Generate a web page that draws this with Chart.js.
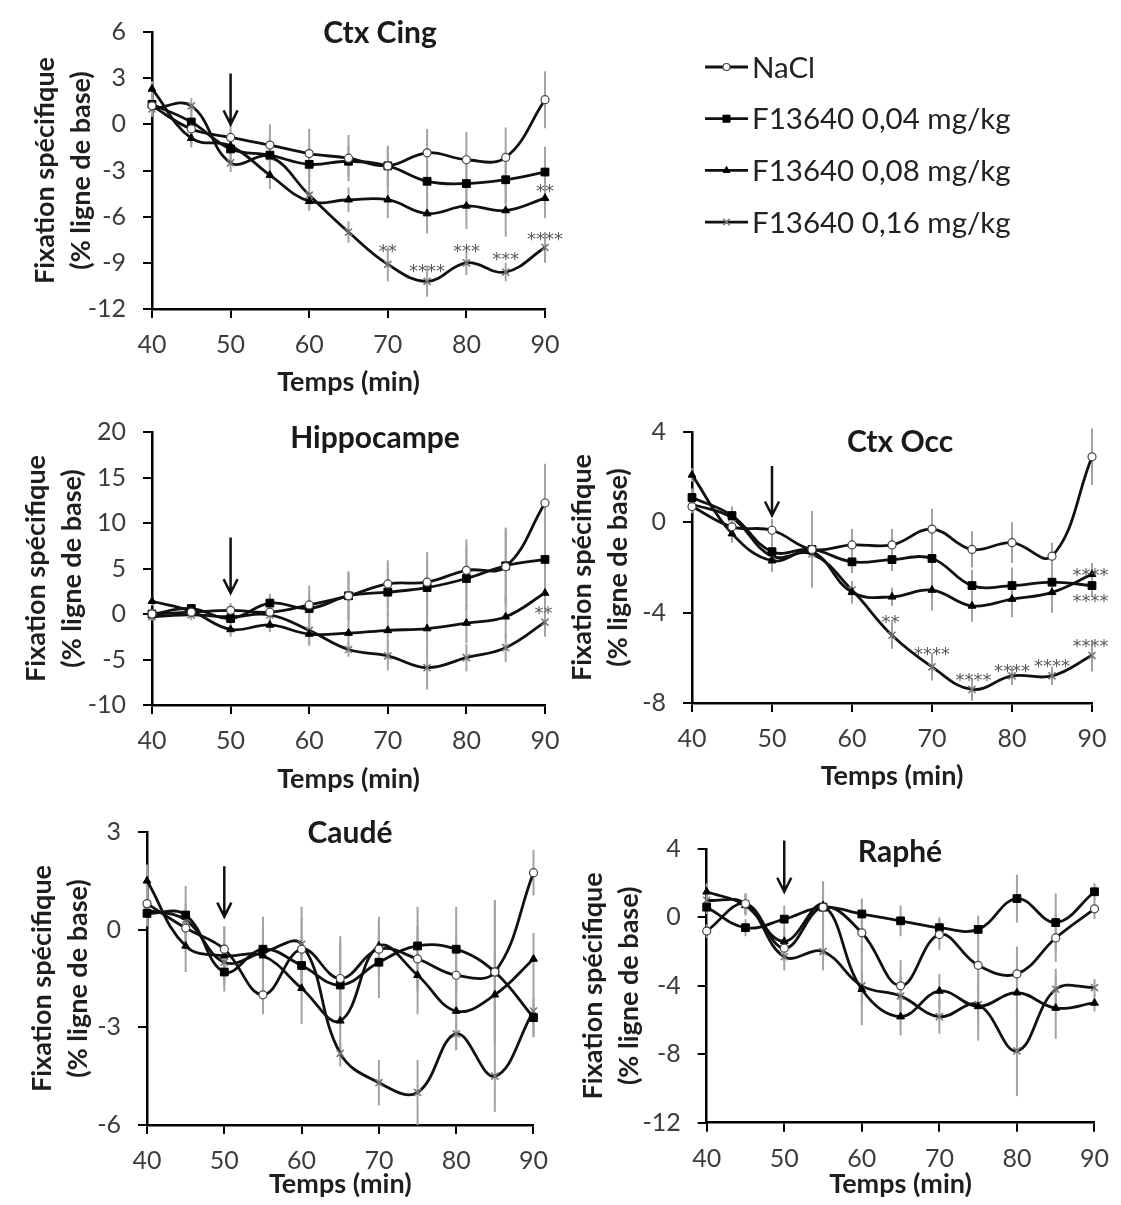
<!DOCTYPE html>
<html>
<head>
<meta charset="utf-8">
<script src="https://cdn.jsdelivr.net/npm/chart.js@4.4.1/dist/chart.umd.min.js"></script>
<style>
  body { margin: 0; background: #fff; width: 1121px; height: 1205px; position: relative; overflow: hidden; }
  canvas { position: absolute; }
</style>
</head>
<body>
<canvas id="c1" width="1121" height="400" style="left:0;top:0"></canvas>
<canvas id="c2" width="575" height="400" style="left:0;top:400px"></canvas>
<canvas id="c3" width="561" height="400" style="left:560px;top:400px"></canvas>
<canvas id="c4" width="560" height="405" style="left:0;top:800px"></canvas>
<canvas id="c5" width="561" height="405" style="left:560px;top:800px"></canvas>
<script>
// time points (min) and group names
const times = [40, 45, 50, 55, 60, 65, 70, 75, 80, 85, 90];
const groupLabels = ['NaCl', 'F13640 0,04 mg/kg', 'F13640 0,08 mg/kg', 'F13640 0,16 mg/kg'];

// Ctx Cing
const cingY = [-12, 6, 3];
const cingNacl = [1.2, -0.3, -0.85, -1.35, -1.9, -2.2, -2.7, -1.85, -2.3, -2.15, 1.6];
const cingD04  = [1.3, 0.15, -1.6, -2.0, -2.6, -2.4, -2.7, -3.7, -3.85, -3.6, -3.1];
const cingD08  = [2.3, -0.9, -1.4, -3.3, -5.0, -4.9, -4.9, -5.8, -5.3, -5.6, -4.8];
const cingD16  = [1.0, 1.2, -2.5, -2.1, -4.6, -7.0, -9.1, -10.2, -9.0, -9.6, -8.0];
const cingNaclErr = [0.6, 1.0, 0.9, 1.35, 1.6, 1.5, 1.3, 1.55, 1.8, 1.95, 1.85];
const cingD04Err  = [0.6, 1.0, 0.8, 1.2, 1.2, 1.0, 1.3, 1.3, 1.5, 1.5, 1.65];
const cingD08Err  = [0.5, 0.6, 0.7, 0.9, 0.6, 0.8, 1.2, 1.3, 1.5, 1.7, 1.3];
const cingD16Err  = [0.5, 0.5, 0.6, 1.0, 1.0, 0.7, 1.1, 1.0, 0.8, 0.6, 1.0];
const cingStars = [[70, -8.0, '**'], [75, -9.3, '****'], [80, -8.0, '***'], [85, -8.5, '***'], [90, -7.2, '****'], [90, -4.1, '**']];
const cingArrow = [50, 3.3, 0.0];

// Hippocampe
const hippY = [-10, 20, 5];
const hippNacl = [0.0, 0.2, 0.4, 0.2, 1.0, 2.0, 3.3, 3.5, 4.8, 5.2, 12.2];
const hippD04  = [0.0, 0.6, -0.5, 1.2, 0.6, 2.0, 2.4, 2.9, 3.9, 5.3, 6.0];
const hippD08  = [1.4, 0.3, -1.7, -1.2, -2.2, -2.1, -1.8, -1.6, -1.0, -0.3, 2.3];
const hippD16  = [-0.3, -0.1, -0.3, -0.1, -1.8, -3.9, -4.6, -5.9, -4.8, -3.7, -0.9];
const hippNaclErr = [0.5, 0.6, 0.8, 1.5, 2.1, 2.7, 2.6, 3.3, 3.4, 4.3, 4.3];
const hippD04Err  = [0.5, 0.5, 0.6, 1.0, 1.5, 2.5, 2.6, 3.0, 3.5, 4.0, 5.0];
const hippD08Err  = [0.5, 0.8, 0.8, 0.8, 1.3, 1.7, 2.0, 2.0, 2.2, 2.3, 1.8];
const hippD16Err  = [0.4, 0.6, 0.7, 0.9, 1.5, 0.8, 1.6, 2.4, 1.5, 1.6, 1.6];
const hippStars = [[89.8, 0.6, '**']];
const hippArrow = [50, 8.4, 2.3];

// Ctx Occ
const occY = [-8, 4, 4];
const occNacl = [0.7, -0.2, -0.35, -1.2, -1.0, -1.0, -0.3, -1.2, -0.9, -1.5, 2.9];
const occD04  = [1.1, 0.3, -1.3, -1.2, -1.75, -1.65, -1.6, -2.8, -2.8, -2.65, -2.8];
const occD08  = [2.1, -0.5, -1.7, -1.3, -3.1, -3.3, -3.0, -3.7, -3.4, -3.1, -2.3];
const occD16  = [0.8, 0.2, -1.5, -1.4, -3.0, -5.0, -6.4, -7.4, -6.8, -6.8, -5.9];
const occNaclErr = [0.3, 0.5, 0.5, 0.6, 0.7, 0.7, 0.9, 0.8, 0.9, 0.6, 1.25];
const occD04Err  = [0.4, 0.4, 0.5, 1.7, 0.5, 0.5, 0.7, 0.7, 0.8, 0.8, 0.5];
const occD08Err  = [0.3, 0.4, 0.5, 1.0, 0.5, 0.4, 0.9, 0.7, 0.8, 0.9, 0.5];
const occD16Err  = [0.3, 0.4, 0.4, 0.8, 0.4, 0.6, 0.6, 0.5, 0.4, 0.4, 0.7];
const occStars = [[64.8, -4.25, '**'], [70, -5.65, '****'], [75.2, -6.8, '****'], [80, -6.4, '****'], [85, -6.2, '****'],
                  [89.8, -5.3, '****'], [89.8, -2.15, '****'], [89.8, -3.3, '****']];
const occArrow = [50, 2.5, 0.3];

// Caudé
const caudY = [-6, 3, 3];
const caudNacl = [0.8, 0.05, -0.6, -2.0, -0.6, -1.5, -0.6, -0.9, -1.4, -1.3, 1.75];
const caudD04  = [0.5, 0.45, -1.3, -0.6, -1.1, -1.7, -1.0, -0.5, -0.6, -1.3, -2.7];
const caudD08  = [1.5, -0.5, -0.8, -0.8, -1.8, -2.8, -0.5, -1.4, -2.5, -2.0, -0.9];
const caudD16  = [0.6, 0.3, -1.0, -0.7, -0.45, -3.8, -4.7, -5.0, -3.2, -4.5, -2.5];
const caudNaclErr = [0.4, 0.5, 0.7, 0.6, 1.3, 1.3, 0.9, 1.0, 1.2, 2.2, 0.7];
const caudD04Err  = [0.4, 0.9, 0.6, 1.0, 0.8, 1.3, 1.1, 1.2, 1.3, 2.2, 0.6];
const caudD08Err  = [0.5, 0.8, 0.9, 0.8, 1.1, 1.2, 0.9, 1.2, 1.2, 1.3, 0.8];
const caudD16Err  = [0.4, 0.5, 0.6, 0.7, 0.8, 0.4, 0.7, 1.0, 0.5, 1.1, 0.8];
const caudStars = [];
const caudArrow = [50, 1.95, 0.4];

// Raphé
const raphY = [-12, 4, 4];
const raphNacl = [-0.8, 0.8, -1.8, 0.6, -0.9, -4.0, -1.0, -2.8, -3.3, -1.2, 0.5];
const raphD04  = [0.6, -0.6, -0.1, 0.6, 0.2, -0.2, -0.6, -0.7, 1.1, -0.3, 1.5];
const raphD08  = [1.5, 0.7, -1.4, 0.7, -4.2, -5.8, -4.3, -5.2, -4.4, -5.3, -5.0];
const raphD16  = [1.0, 0.8, -2.3, -2.0, -4.0, -4.6, -5.8, -5.1, -7.8, -4.2, -4.1];
const raphNaclErr = [0.4, 0.6, 0.8, 1.5, 1.2, 1.5, 0.9, 1.3, 1.6, 1.4, 0.6];
const raphD04Err  = [0.4, 0.5, 0.8, 1.5, 0.9, 0.9, 0.6, 0.8, 1.4, 1.7, 0.5];
const raphD08Err  = [0.5, 0.6, 0.7, 1.3, 1.0, 1.1, 1.0, 2.0, 1.2, 1.8, 0.5];
const raphD16Err  = [0.5, 0.6, 0.8, 1.1, 2.3, 1.2, 1.0, 1.2, 2.65, 1.2, 0.5];
const raphStars = [];
const raphArrow = [50, 4.5, 1.5];

// marker look for each group
const markerStyles = [
  { pointStyle: 'circle', radius: 4, fill: '#ffffff', stroke: '#444', width: 1.2 },
  { pointStyle: 'rect', radius: 5.5, fill: '#000000', stroke: '#000', width: 1 },
  { pointStyle: 'triangle', radius: 4.5, fill: '#000000', stroke: '#000', width: 1 },
  { pointStyle: 'crossRot', radius: 5, fill: '#777777', stroke: '#777', width: 1.6 }
];

const panels = [
  { canvas: 'c1', name: 'Ctx Cing', y: cingY,
    series: [cingNacl, cingD04, cingD08, cingD16], errs: [cingNaclErr, cingD04Err, cingD08Err, cingD16Err],
    stars: cingStars, arrow: cingArrow,
    pad: { left: 27, top: 21.5, right: 576, bottom: 2 }, yWidth: 125, xHeight: 89, titlePos: [380, 33],
    legend: { x0: 705, x1: 748, tx: 752, y: 67, step: 51.7 } },
  { canvas: 'c2', name: 'Hippocampe', y: hippY,
    series: [hippNacl, hippD04, hippD08, hippD16], errs: [hippNaclErr, hippD04Err, hippD08Err, hippD16Err],
    stars: hippStars, arrow: hippArrow,
    pad: { left: 18, top: 11.7, right: 30, bottom: 5 }, yWidth: 134, xHeight: 90, titlePos: [375, 38] },
  { canvas: 'c3', name: 'Ctx Occ', y: occY,
    series: [occNacl, occD04, occD08, occD16], errs: [occNaclErr, occD04Err, occD08Err, occD16Err],
    stars: occStars, arrow: occArrow,
    pad: { left: 4, top: 28.3, right: 29, bottom: 8 }, yWidth: 128, xHeight: 89, titlePos: [340, 42] },
  { canvas: 'c4', name: 'Caudé', y: caudY,
    series: [caudNacl, caudD04, caudD08, caudD16], errs: [caudNaclErr, caudD04Err, caudD08Err, caudD16Err],
    stars: caudStars, arrow: caudArrow,
    pad: { left: 24.5, top: 30, right: 23, bottom: 5 }, yWidth: 122.5, xHeight: 75, titlePos: [350, 33] },
  { canvas: 'c5', name: 'Raphé', y: raphY,
    series: [raphNacl, raphD04, raphD08, raphD16], errs: [raphNaclErr, raphD04Err, raphD08Err, raphD16Err],
    stars: raphStars, arrow: raphArrow,
    pad: { left: 15, top: 49, right: 23, bottom: 5 }, yWidth: 131.7, xHeight: 77.3, titlePos: [340, 52] }
];

// error bars go under the lines
const errorBarPlugin = {
  id: 'errorBars',
  beforeDatasetsDraw(chart) {
    const { ctx, scales: { x, y } } = chart;
    ctx.save();
    ctx.strokeStyle = '#a3a3a3';
    ctx.lineWidth = 2;
    chart.data.datasets.forEach(ds => {
      ds.data.forEach((pt, i) => {
        const e = ds.errors[i];
        const px = x.getPixelForValue(pt.x);
        ctx.beginPath();
        ctx.moveTo(px, y.getPixelForValue(pt.y + e));
        ctx.lineTo(px, y.getPixelForValue(pt.y - e));
        ctx.stroke();
      });
    });
    ctx.restore();
  }
};

function makeDeco(p) {
  return {
    id: 'deco',
    afterDatasetsDraw(chart) {
      const { ctx, scales: { x, y } } = chart;
      ctx.save();

      // injection arrow
      const ax = x.getPixelForValue(p.arrow[0]);
      const yTop = y.getPixelForValue(p.arrow[1]);
      const yTip = y.getPixelForValue(p.arrow[2]);
      ctx.strokeStyle = '#111';
      ctx.lineWidth = 2.5;
      ctx.beginPath();
      ctx.moveTo(ax, yTop);
      ctx.lineTo(ax, yTip);
      ctx.moveTo(ax - 7, yTip - 14);
      ctx.lineTo(ax, yTip);
      ctx.lineTo(ax + 7, yTip - 14);
      ctx.stroke();

      // significance stars
      ctx.fillStyle = '#5a5a5a';
      ctx.font = '18px "DejaVu Sans"';
      ctx.textAlign = 'center';
      ctx.textBaseline = 'alphabetic';
      p.stars.forEach(([sx, sy, txt]) => {
        ctx.fillText(txt, x.getPixelForValue(sx), y.getPixelForValue(sy) + 10);
      });

      // panel title
      ctx.fillStyle = '#1a1a1a';
      ctx.font = 'bold 30px Lato';
      ctx.textBaseline = 'middle';
      ctx.fillText(p.name, p.titlePos[0], p.titlePos[1]);

      // legend
      if (p.legend) {
        const lg = p.legend;
        groupLabels.forEach((lab, i) => {
          const ly = lg.y + i * lg.step;
          ctx.strokeStyle = '#111';
          ctx.lineWidth = 2.8;
          ctx.beginPath();
          ctx.moveTo(lg.x0, ly);
          ctx.lineTo(lg.x1, ly);
          ctx.stroke();
          const m = markerStyles[i];
          ctx.fillStyle = m.fill;
          ctx.strokeStyle = m.stroke;
          ctx.lineWidth = m.width;
          Chart.helpers.drawPoint(ctx, { pointStyle: m.pointStyle, radius: m.radius - 0.5, rotation: 0, borderWidth: m.width },
            (lg.x0 + lg.x1) / 2, ly);
          ctx.fillStyle = '#222';
          ctx.font = '29.5px Lato';
          ctx.textAlign = 'left';
          ctx.textBaseline = 'middle';
          ctx.fillText(lab, lg.tx, ly + 1);
        });
      }
      ctx.restore();
    }
  };
}

function buildChart(p) {
  const datasets = p.series.map((vals, i) => {
    const m = markerStyles[i];
    return {
      label: groupLabels[i],
      data: times.map((t, j) => ({ x: t, y: vals[j] })),
      errors: p.errs[i],
      borderColor: '#111',
      borderWidth: 2.8,
      tension: 0.4,
      fill: false,
      clip: false,
      pointStyle: m.pointStyle,
      pointRadius: m.radius,
      pointBackgroundColor: m.fill,
      pointBorderColor: m.stroke,
      pointBorderWidth: m.width
    };
  });

  const yTitleFont = { family: 'Lato', size: 27, weight: 'bold', lineHeight: 1.333 };

  return new Chart(document.getElementById(p.canvas), {
    type: 'line',
    data: { datasets },
    options: {
      responsive: false,
      animation: false,
      events: [],
      layout: { padding: p.pad },
      plugins: { legend: { display: false }, tooltip: { enabled: false }, title: { display: false } },
      scales: {
        x: {
          type: 'linear',
          min: 40,
          max: 90,
          ticks: { stepSize: 10, color: '#3c3c3c', font: { family: 'Lato', size: 25 }, padding: 12, maxRotation: 0 },
          grid: { drawOnChartArea: false, drawTicks: true, tickLength: 9, color: '#000', lineWidth: 2 },
          border: { display: true, color: '#000', width: 2.5 },
          title: { display: true, text: 'Temps (min)', color: '#1e1e1e', padding: 0,
                   font: { family: 'Lato', size: 27, weight: 'bold' } },
          afterFit(scale) { scale.height = p.xHeight; }
        },
        y: {
          type: 'linear',
          min: p.y[0],
          max: p.y[1],
          ticks: { stepSize: p.y[2], color: '#3c3c3c', font: { family: 'Lato', size: 25 }, padding: 17 },
          grid: { drawOnChartArea: false, drawTicks: true, tickLength: 9, color: '#000', lineWidth: 2 },
          border: { display: true, color: '#000', width: 2.5 },
          title: { display: true, text: ['Fixation spécifique', '(% ligne de base)'], color: '#1e1e1e',
                   padding: 0, font: yTitleFont },
          afterFit(scale) { scale.width = p.yWidth; }
        }
      }
    },
    plugins: [errorBarPlugin, makeDeco(p)]
  });
}

panels.forEach(buildChart);
</script>
</body>
</html>
